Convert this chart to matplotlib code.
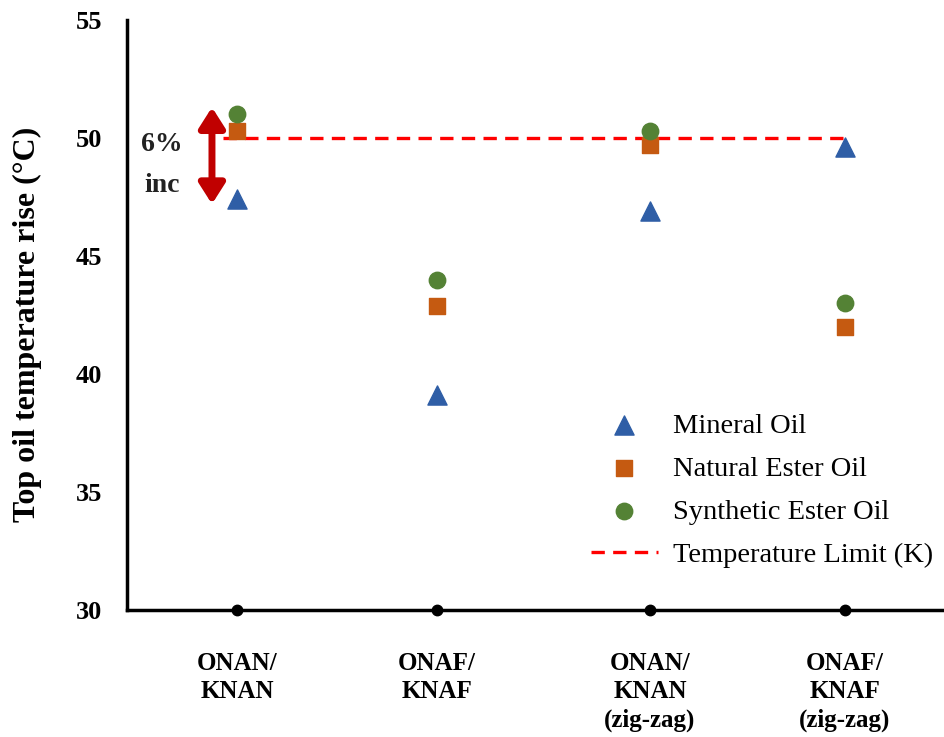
import numpy as np
import matplotlib.pyplot as plt

# categories and values
categories = ['ONAN/\nKNAN', 'ONAF/\nKNAF', 'ONAN/\nKNAN\n(zig-zag)', 'ONAF/\nKNAF\n(zig-zag)']
mineral = [47.4, 39.1, 46.9, 49.6]
natural = [50.3, 42.9, 49.7, 42.0]
synthetic = [51.0, 44.0, 50.3, 43.0]
temp_limit = 50
arrow_span = [51.3, 47.2]

# category positions on the x axis (not evenly spaced in the original)
xpos = [1.0, 2.0, 3.065, 4.04]

plt.rcParams['font.family'] = ['Liberation Serif', 'DejaVu Serif']

fig = plt.figure(figsize=(9.44, 7.37), dpi=100)
ax = fig.add_axes([0.1345, 0.172, 0.8655, 0.801])

ax.scatter(xpos, mineral, marker='^', s=190, color='#2F5EA6', label='Mineral Oil', zorder=3)
ax.scatter(xpos, natural, marker='s', s=140, color='#C55A11', label='Natural Ester Oil', zorder=3)
ax.scatter(xpos, synthetic, marker='o', s=140, color='#548235', label='Synthetic Ester Oil', zorder=4)
ax.plot([xpos[0] - 0.07, xpos[-1]], [temp_limit, temp_limit], color='#FF0000', ls='--',
        lw=2.4, dashes=(4, 2.5), label='Temperature Limit (K)', zorder=2)

# 6% increase arrow
ax.annotate('', xy=(0.875, arrow_span[0]), xytext=(0.875, arrow_span[1]),
            arrowprops=dict(arrowstyle='<|-|>,head_length=0.55,head_width=0.35', color='#C00000',
                            lw=5, mutation_scale=22, shrinkA=0, shrinkB=0), zorder=5)
ax.text(0.625, 48.85, '6%\ninc', fontsize=20, fontweight='bold', ha='center', va='center',
        linespacing=1.85, color='#222222')

# black dots on the x axis at each category
ax.plot(xpos, [30] * len(xpos), 'o', color='black', ms=7.5, clip_on=False, zorder=6)

ax.set_xlim(0.45, 4.535)
ax.set_ylim(30, 55)
ax.set_yticks([30, 35, 40, 45, 50, 55])
ax.set_xticks(xpos)
ax.set_xticklabels(categories, fontsize=18, fontweight='bold', linespacing=1.3, va='top')
for lab in ax.get_yticklabels():
    lab.set_fontweight('bold')
ax.tick_params(axis='y', length=0, pad=18, labelsize=19)
ax.tick_params(axis='x', length=0, pad=30)

ax.spines['top'].set_visible(False)
ax.spines['right'].set_visible(False)
ax.spines['left'].set_linewidth(2.5)
ax.spines['bottom'].set_linewidth(2.5)

ax.set_ylabel('Top oil temperature rise (°C)', fontsize=23, fontweight='bold')
ax.yaxis.set_label_coords(-0.104, 0.485)

ax.legend(loc='lower right', bbox_to_anchor=(0.987, 0.072), frameon=False, fontsize=20.5,
          handlelength=2.35, labelspacing=0.6, handletextpad=0.55, borderaxespad=0,
          borderpad=0)

fig.savefig('out.png', dpi=100)
